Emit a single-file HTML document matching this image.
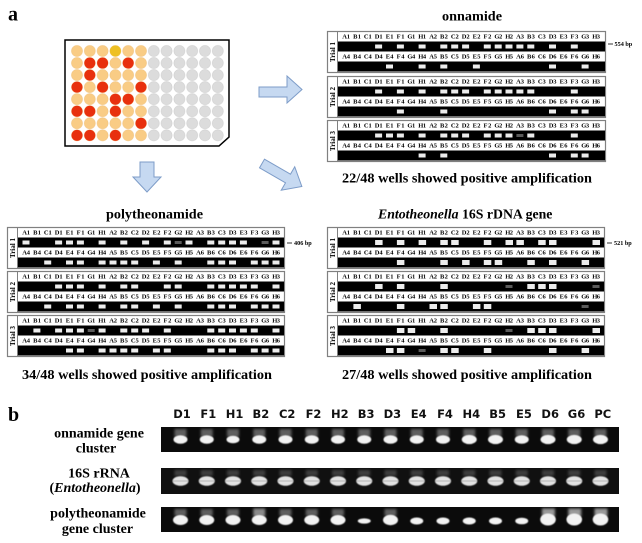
<!DOCTYPE html>
<html><head><meta charset="utf-8"><style>
html,body{margin:0;padding:0;background:#fff;}
svg{display:block;}
.ln{font-weight:bold;font-size:6.5px;font-family:"Liberation Serif",serif;fill:#000;}
.tr{font-weight:bold;font-size:7px;font-family:"Liberation Serif",serif;fill:#000;}
.t{font-weight:bold;font-size:14px;font-family:"Liberation Serif",serif;fill:#000;}
.bp{font-weight:bold;font-size:6.2px;font-family:"Liberation Serif",serif;fill:#000;}
.lb{font-weight:bold;font-size:11.5px;font-family:"DejaVu Sans","Liberation Sans",sans-serif;fill:#111;}
.b{fill:#ececec;}
.f{fill:#5a5a5a;}
</style></head><body>
<svg width="642" height="543" viewBox="0 0 642 543" xmlns="http://www.w3.org/2000/svg">
<defs>
<pattern id="pp" patternUnits="userSpaceOnUse" x="70.6" y="44.975" width="12.8" height="12.05"><circle cx="6.4" cy="6.025" r="5.5" fill="#F9CC85" stroke="#efc07a" stroke-width="0.5"/></pattern>
<pattern id="pg" patternUnits="userSpaceOnUse" x="147.4" y="44.975" width="12.8" height="12.05"><circle cx="6.4" cy="6.025" r="5.5" fill="#DCDCDC" stroke="#cacaca" stroke-width="0.5"/></pattern>
<filter id="bl1" x="-50%" y="-50%" width="200%" height="200%"><feGaussianBlur stdDeviation="1.3"/></filter>
<filter id="bl2" x="-50%" y="-50%" width="200%" height="200%"><feGaussianBlur stdDeviation="0.6"/></filter>
</defs>

<!-- label a -->
<text x="8" y="20.5" style="font-weight:bold;font-size:20px;font-family:'Liberation Serif',serif;">a</text>

<!-- plate -->
<polygon points="65,40 229,40 229,137 219,146 65,146" fill="#fff" stroke="#000" stroke-width="1.5"/>
<rect x="70.6" y="44.975" width="76.8" height="96.4" fill="url(#pp)"/>
<rect x="147.4" y="44.975" width="76.8" height="96.4" fill="url(#pg)"/>
<g fill="#E8300E">
<circle cx="89.8" cy="63.05" r="5.5"/><circle cx="102.6" cy="63.05" r="5.5"/><circle cx="128.2" cy="63.05" r="5.5"/>
<circle cx="89.8" cy="75.1" r="5.5"/>
<circle cx="77" cy="87.15" r="5.5"/><circle cx="102.6" cy="87.15" r="5.5"/><circle cx="141" cy="87.15" r="5.5"/>
<circle cx="115.4" cy="99.2" r="5.5"/><circle cx="128.2" cy="99.2" r="5.5"/>
<circle cx="77" cy="111.25" r="5.5"/><circle cx="89.8" cy="111.25" r="5.5"/><circle cx="115.4" cy="111.25" r="5.5"/>
<circle cx="141" cy="123.3" r="5.5"/>
<circle cx="77" cy="135.35" r="5.5"/><circle cx="89.8" cy="135.35" r="5.5"/><circle cx="115.4" cy="135.35" r="5.5"/>
</g>
<circle cx="115.4" cy="51" r="5.5" fill="#EEC023"/>

<!-- arrows -->
<g fill="#C6D9F1" stroke="#7d9cc8" stroke-width="1">
<polygon points="259,87 287,87 287,76 302,89.5 287,103 287,97 259,97"/>
<polygon points="140,162 154,162 154,177 161,177 147,192 133,177 140,177"/>
<polygon transform="translate(262,163.5) rotate(30)" points="0,-5 30,-5 30,-13.5 46,0 30,13.5 30,5 0,5"/>
</g>

<!-- titles -->
<text class="t" x="442" y="20.5" textLength="60" lengthAdjust="spacingAndGlyphs">onnamide</text>
<text class="t" x="342" y="182.5" textLength="250" lengthAdjust="spacingAndGlyphs">22/48 wells showed positive amplification</text>
<text class="t" x="106" y="218.5" textLength="97" lengthAdjust="spacingAndGlyphs">polytheonamide</text>
<text class="t" x="22" y="379" textLength="250" lengthAdjust="spacingAndGlyphs">34/48 wells showed positive amplification</text>
<text class="t" x="378" y="218.5" style="font-size:13.8px"><tspan font-style="italic">Entotheonella</tspan> 16S rDNA gene</text>
<text class="t" x="342" y="379" textLength="250" lengthAdjust="spacingAndGlyphs">27/48 wells showed positive amplification</text>

<!-- bp markers -->
<line x1="608" y1="44" x2="613" y2="44" stroke="#000" stroke-width="0.8"/><text class="bp" x="614.5" y="46">554 bp</text>
<line x1="287" y1="243" x2="292" y2="243" stroke="#000" stroke-width="0.8"/><text class="bp" x="294" y="245">406 bp</text>
<line x1="607" y1="243" x2="612" y2="243" stroke="#000" stroke-width="0.8"/><text class="bp" x="614" y="245">521 bp</text>

<!-- ============ ONNAMIDE ============ -->
<g transform="translate(327,31)">
<rect x="0.5" y="0.5" width="278" height="41" fill="#fff" stroke="#808080" stroke-width="1.2"/>
<line x1="10.5" y1="0.5" x2="10.5" y2="41.5" stroke="#808080"/>
<rect x="11" y="10.5" width="267" height="10" fill="#000"/><rect x="11" y="30.5" width="267" height="10" fill="#000"/>
<text class="ln" y="7.7" x="15.2 19.8 26.1 30.7 36.9 41.5 47.8 52.4 58.7 63.3 69.6 74.2 80.4 85 91.3 95.9 102.2 106.8 113 117.6 123.9 128.5 134.8 139.4 145.6 150.2 156.5 161.1 167.4 172 178.2 182.8 189.1 193.7 200 204.6 210.9 215.5 221.7 226.3 232.6 237.2 243.5 248.1 254.3 258.9 265.2 269.8">A1B1C1D1E1F1G1H1A2B2C2D2E2F2G2H2A3B3C3D3E3F3G3H3</text>
<text class="ln" y="27.7" x="15.2 19.8 26.1 30.7 36.9 41.5 47.8 52.4 58.7 63.3 69.6 74.2 80.4 85 91.3 95.9 102.2 106.8 113 117.6 123.9 128.5 134.8 139.4 145.6 150.2 156.5 161.1 167.4 172 178.2 182.8 189.1 193.7 200 204.6 210.9 215.5 221.7 226.3 232.6 237.2 243.5 248.1 254.3 258.9 265.2 269.8">A4B4C4D4E4F4G4H4A5B5C5D5E5F5G5H5A6B6C6D6E6F6G6H6</text>
<text class="tr" transform="translate(8,21) rotate(-90)" text-anchor="middle">Trial 1</text>
<g class="b">
<rect x="48.1" y="13.5" width="7" height="4"/><rect x="69.9" y="13.5" width="7" height="4"/><rect x="91.6" y="13.5" width="7" height="4"/><rect x="113.3" y="13.5" width="7" height="4"/><rect x="124.2" y="13.5" width="7" height="4"/><rect x="135.1" y="13.5" width="7" height="4"/><rect x="156.8" y="13.5" width="7" height="4"/><rect x="167.7" y="13.5" width="7" height="4"/><rect x="178.5" y="13.5" width="7" height="4"/><rect x="189.4" y="13.5" width="7" height="4"/><rect x="200.3" y="13.5" width="7" height="4"/><rect x="222" y="13.5" width="7" height="4"/><rect x="243.8" y="13.5" width="7" height="4"/>
<rect x="59" y="33.5" width="7" height="4"/><rect x="91.6" y="33.5" width="7" height="4"/><rect x="113.3" y="33.5" width="7" height="4"/><rect x="145.9" y="33.5" width="7" height="4"/><rect x="222" y="33.5" width="7" height="4"/><rect x="254.6" y="33.5" width="7" height="4"/>
</g>
</g>

<g transform="translate(327,76)">
<rect x="0.5" y="0.5" width="278" height="41" fill="#fff" stroke="#808080" stroke-width="1.2"/>
<line x1="10.5" y1="0.5" x2="10.5" y2="41.5" stroke="#808080"/>
<rect x="11" y="10.5" width="267" height="10" fill="#000"/><rect x="11" y="30.5" width="267" height="10" fill="#000"/>
<text class="ln" y="7.7" x="15.2 19.8 26.1 30.7 36.9 41.5 47.8 52.4 58.7 63.3 69.6 74.2 80.4 85 91.3 95.9 102.2 106.8 113 117.6 123.9 128.5 134.8 139.4 145.6 150.2 156.5 161.1 167.4 172 178.2 182.8 189.1 193.7 200 204.6 210.9 215.5 221.7 226.3 232.6 237.2 243.5 248.1 254.3 258.9 265.2 269.8">A1B1C1D1E1F1G1H1A2B2C2D2E2F2G2H2A3B3C3D3E3F3G3H3</text>
<text class="ln" y="27.7" x="15.2 19.8 26.1 30.7 36.9 41.5 47.8 52.4 58.7 63.3 69.6 74.2 80.4 85 91.3 95.9 102.2 106.8 113 117.6 123.9 128.5 134.8 139.4 145.6 150.2 156.5 161.1 167.4 172 178.2 182.8 189.1 193.7 200 204.6 210.9 215.5 221.7 226.3 232.6 237.2 243.5 248.1 254.3 258.9 265.2 269.8">A4B4C4D4E4F4G4H4A5B5C5D5E5F5G5H5A6B6C6D6E6F6G6H6</text>
<text class="tr" transform="translate(8,21) rotate(-90)" text-anchor="middle">Trial 2</text>
<g class="b">
<rect x="48.1" y="13.5" width="7" height="4"/><rect x="69.9" y="13.5" width="7" height="4"/><rect x="91.6" y="13.5" width="7" height="4"/><rect x="113.3" y="13.5" width="7" height="4"/><rect x="124.2" y="13.5" width="7" height="4"/><rect x="135.1" y="13.5" width="7" height="4"/><rect x="156.8" y="13.5" width="7" height="4"/><rect x="167.7" y="13.5" width="7" height="4"/><rect x="178.5" y="13.5" width="7" height="4"/><rect x="189.4" y="13.5" width="7" height="4"/><rect x="200.3" y="13.5" width="7" height="4"/><rect x="243.8" y="13.5" width="7" height="4"/>
<rect x="69.9" y="33.5" width="7" height="4"/><rect x="113.3" y="33.5" width="7" height="4"/><rect x="222" y="33.5" width="7" height="4"/><rect x="243.8" y="33.5" width="7" height="4"/><rect x="254.6" y="33.5" width="7" height="4"/>
</g>
</g>

<g transform="translate(327,120)">
<rect x="0.5" y="0.5" width="278" height="41" fill="#fff" stroke="#808080" stroke-width="1.2"/>
<line x1="10.5" y1="0.5" x2="10.5" y2="41.5" stroke="#808080"/>
<rect x="11" y="10.5" width="267" height="10" fill="#000"/><rect x="11" y="30.5" width="267" height="10" fill="#000"/>
<text class="ln" y="7.7" x="15.2 19.8 26.1 30.7 36.9 41.5 47.8 52.4 58.7 63.3 69.6 74.2 80.4 85 91.3 95.9 102.2 106.8 113 117.6 123.9 128.5 134.8 139.4 145.6 150.2 156.5 161.1 167.4 172 178.2 182.8 189.1 193.7 200 204.6 210.9 215.5 221.7 226.3 232.6 237.2 243.5 248.1 254.3 258.9 265.2 269.8">A1B1C1D1E1F1G1H1A2B2C2D2E2F2G2H2A3B3C3D3E3F3G3H3</text>
<text class="ln" y="27.7" x="15.2 19.8 26.1 30.7 36.9 41.5 47.8 52.4 58.7 63.3 69.6 74.2 80.4 85 91.3 95.9 102.2 106.8 113 117.6 123.9 128.5 134.8 139.4 145.6 150.2 156.5 161.1 167.4 172 178.2 182.8 189.1 193.7 200 204.6 210.9 215.5 221.7 226.3 232.6 237.2 243.5 248.1 254.3 258.9 265.2 269.8">A4B4C4D4E4F4G4H4A5B5C5D5E5F5G5H5A6B6C6D6E6F6G6H6</text>
<text class="tr" transform="translate(8,21) rotate(-90)" text-anchor="middle">Trial 3</text>
<g class="b">
<rect x="48.1" y="13.5" width="7" height="4"/><rect x="59" y="13.5" width="7" height="4"/><rect x="69.9" y="13.5" width="7" height="4"/><rect x="91.6" y="13.5" width="7" height="4"/><rect x="113.3" y="13.5" width="7" height="4"/><rect x="124.2" y="13.5" width="7" height="4"/><rect x="135.1" y="13.5" width="7" height="4"/><rect x="156.8" y="13.5" width="7" height="4"/><rect x="167.7" y="13.5" width="7" height="4"/><rect x="178.5" y="13.5" width="7" height="4"/><rect class="f" x="189.4" y="14" width="7" height="3"/><rect x="200.3" y="13.5" width="7" height="4"/><rect x="243.8" y="13.5" width="7" height="4"/>
<rect x="91.6" y="33.5" width="7" height="4"/><rect x="113.3" y="33.5" width="7" height="4"/><rect x="222" y="33.5" width="7" height="4"/><rect x="243.8" y="33.5" width="7" height="4"/><rect x="254.6" y="33.5" width="7" height="4"/>
</g>
</g>

<!-- ============ POLYTHEONAMIDE ============ -->
<g transform="translate(7,227)">
<rect x="0.5" y="0.5" width="277" height="41" fill="#fff" stroke="#808080" stroke-width="1.2"/>
<line x1="10.5" y1="0.5" x2="10.5" y2="41.5" stroke="#808080"/>
<rect x="11" y="10.5" width="266" height="10" fill="#000"/><rect x="11" y="30.5" width="266" height="10" fill="#000"/>
<text class="ln" y="7.7" x="15.2 19.8 26.1 30.7 36.9 41.5 47.8 52.4 58.7 63.3 69.6 74.2 80.4 85 91.3 95.9 102.2 106.8 113 117.6 123.9 128.5 134.8 139.4 145.6 150.2 156.5 161.1 167.4 172 178.2 182.8 189.1 193.7 200 204.6 210.9 215.5 221.7 226.3 232.6 237.2 243.5 248.1 254.3 258.9 265.2 269.8">A1B1C1D1E1F1G1H1A2B2C2D2E2F2G2H2A3B3C3D3E3F3G3H3</text>
<text class="ln" y="27.7" x="15.2 19.8 26.1 30.7 36.9 41.5 47.8 52.4 58.7 63.3 69.6 74.2 80.4 85 91.3 95.9 102.2 106.8 113 117.6 123.9 128.5 134.8 139.4 145.6 150.2 156.5 161.1 167.4 172 178.2 182.8 189.1 193.7 200 204.6 210.9 215.5 221.7 226.3 232.6 237.2 243.5 248.1 254.3 258.9 265.2 269.8">A4B4C4D4E4F4G4H4A5B5C5D5E5F5G5H5A6B6C6D6E6F6G6H6</text>
<text class="tr" transform="translate(8,21) rotate(-90)" text-anchor="middle">Trial 1</text>
<g class="b">
<rect x="15.5" y="13.5" width="7" height="4"/><rect x="48.1" y="13.5" width="7" height="4"/><rect x="59" y="13.5" width="7" height="4"/><rect x="69.9" y="13.5" width="7" height="4"/><rect x="91.6" y="13.5" width="7" height="4"/><rect x="113.3" y="13.5" width="7" height="4"/><rect x="135.1" y="13.5" width="7" height="4"/><rect x="156.8" y="13.5" width="7" height="4"/><rect class="f" x="167.7" y="14" width="7" height="3"/><rect x="178.5" y="13.5" width="7" height="4"/><rect x="200.3" y="13.5" width="7" height="4"/><rect x="211.2" y="13.5" width="7" height="4"/><rect x="222" y="13.5" width="7" height="4"/><rect x="232.9" y="13.5" width="7" height="4"/><rect class="f" x="254.6" y="14" width="7" height="3"/><rect x="265.5" y="13.5" width="7" height="4"/>
<rect x="37.2" y="33.5" width="7" height="4"/><rect x="59" y="33.5" width="7" height="4"/><rect x="69.9" y="33.5" width="7" height="4"/><rect x="91.6" y="33.5" width="7" height="4"/><rect x="102.5" y="33.5" width="7" height="4"/><rect x="113.3" y="33.5" width="7" height="4"/><rect x="124.2" y="33.5" width="7" height="4"/><rect x="145.9" y="33.5" width="7" height="4"/><rect x="167.7" y="33.5" width="7" height="4"/><rect x="200.3" y="33.5" width="7" height="4"/><rect x="211.2" y="33.5" width="7" height="4"/><rect x="222" y="33.5" width="7" height="4"/><rect x="243.8" y="33.5" width="7" height="4"/><rect x="254.6" y="33.5" width="7" height="4"/><rect x="265.5" y="33.5" width="7" height="4"/>
</g>
</g>

<g transform="translate(7,271)">
<rect x="0.5" y="0.5" width="277" height="41" fill="#fff" stroke="#808080" stroke-width="1.2"/>
<line x1="10.5" y1="0.5" x2="10.5" y2="41.5" stroke="#808080"/>
<rect x="11" y="10.5" width="266" height="10" fill="#000"/><rect x="11" y="30.5" width="266" height="10" fill="#000"/>
<text class="ln" y="7.7" x="15.2 19.8 26.1 30.7 36.9 41.5 47.8 52.4 58.7 63.3 69.6 74.2 80.4 85 91.3 95.9 102.2 106.8 113 117.6 123.9 128.5 134.8 139.4 145.6 150.2 156.5 161.1 167.4 172 178.2 182.8 189.1 193.7 200 204.6 210.9 215.5 221.7 226.3 232.6 237.2 243.5 248.1 254.3 258.9 265.2 269.8">A1B1C1D1E1F1G1H1A2B2C2D2E2F2G2H2A3B3C3D3E3F3G3H3</text>
<text class="ln" y="27.7" x="15.2 19.8 26.1 30.7 36.9 41.5 47.8 52.4 58.7 63.3 69.6 74.2 80.4 85 91.3 95.9 102.2 106.8 113 117.6 123.9 128.5 134.8 139.4 145.6 150.2 156.5 161.1 167.4 172 178.2 182.8 189.1 193.7 200 204.6 210.9 215.5 221.7 226.3 232.6 237.2 243.5 248.1 254.3 258.9 265.2 269.8">A4B4C4D4E4F4G4H4A5B5C5D5E5F5G5H5A6B6C6D6E6F6G6H6</text>
<text class="tr" transform="translate(8,21) rotate(-90)" text-anchor="middle">Trial 2</text>
<g class="b">
<rect x="48.1" y="13.5" width="7" height="4"/><rect x="59" y="13.5" width="7" height="4"/><rect x="69.9" y="13.5" width="7" height="4"/><rect x="91.6" y="13.5" width="7" height="4"/><rect x="113.3" y="13.5" width="7" height="4"/><rect x="124.2" y="13.5" width="7" height="4"/><rect x="156.8" y="13.5" width="7" height="4"/><rect x="167.7" y="13.5" width="7" height="4"/><rect x="200.3" y="13.5" width="7" height="4"/><rect x="211.2" y="13.5" width="7" height="4"/><rect x="222" y="13.5" width="7" height="4"/><rect x="232.9" y="13.5" width="7" height="4"/><rect x="243.8" y="13.5" width="7" height="4"/><rect x="265.5" y="13.5" width="7" height="4"/>
<rect x="37.2" y="33.5" width="7" height="4"/><rect x="59" y="33.5" width="7" height="4"/><rect x="69.9" y="33.5" width="7" height="4"/><rect x="91.6" y="33.5" width="7" height="4"/><rect x="113.3" y="33.5" width="7" height="4"/><rect x="124.2" y="33.5" width="7" height="4"/><rect x="145.9" y="33.5" width="7" height="4"/><rect x="167.7" y="33.5" width="7" height="4"/><rect x="200.3" y="33.5" width="7" height="4"/><rect x="211.2" y="33.5" width="7" height="4"/><rect x="222" y="33.5" width="7" height="4"/><rect x="243.8" y="33.5" width="7" height="4"/><rect x="254.6" y="33.5" width="7" height="4"/><rect x="265.5" y="33.5" width="7" height="4"/>
</g>
</g>

<g transform="translate(7,315)">
<rect x="0.5" y="0.5" width="277" height="41" fill="#fff" stroke="#808080" stroke-width="1.2"/>
<line x1="10.5" y1="0.5" x2="10.5" y2="41.5" stroke="#808080"/>
<rect x="11" y="10.5" width="266" height="10" fill="#000"/><rect x="11" y="30.5" width="266" height="10" fill="#000"/>
<text class="ln" y="7.7" x="15.2 19.8 26.1 30.7 36.9 41.5 47.8 52.4 58.7 63.3 69.6 74.2 80.4 85 91.3 95.9 102.2 106.8 113 117.6 123.9 128.5 134.8 139.4 145.6 150.2 156.5 161.1 167.4 172 178.2 182.8 189.1 193.7 200 204.6 210.9 215.5 221.7 226.3 232.6 237.2 243.5 248.1 254.3 258.9 265.2 269.8">A1B1C1D1E1F1G1H1A2B2C2D2E2F2G2H2A3B3C3D3E3F3G3H3</text>
<text class="ln" y="27.7" x="15.2 19.8 26.1 30.7 36.9 41.5 47.8 52.4 58.7 63.3 69.6 74.2 80.4 85 91.3 95.9 102.2 106.8 113 117.6 123.9 128.5 134.8 139.4 145.6 150.2 156.5 161.1 167.4 172 178.2 182.8 189.1 193.7 200 204.6 210.9 215.5 221.7 226.3 232.6 237.2 243.5 248.1 254.3 258.9 265.2 269.8">A4B4C4D4E4F4G4H4A5B5C5D5E5F5G5H5A6B6C6D6E6F6G6H6</text>
<text class="tr" transform="translate(8,21) rotate(-90)" text-anchor="middle">Trial 3</text>
<g class="b">
<rect x="26.4" y="13.5" width="7" height="4"/><rect x="48.1" y="13.5" width="7" height="4"/><rect x="59" y="13.5" width="7" height="4"/><rect x="69.9" y="13.5" width="7" height="4"/><rect class="f" x="80.7" y="14" width="7" height="3"/><rect x="91.6" y="13.5" width="7" height="4"/><rect x="113.3" y="13.5" width="7" height="4"/><rect x="124.2" y="13.5" width="7" height="4"/><rect x="135.1" y="13.5" width="7" height="4"/><rect x="156.8" y="13.5" width="7" height="4"/><rect x="200.3" y="13.5" width="7" height="4"/><rect x="211.2" y="13.5" width="7" height="4"/><rect x="222" y="13.5" width="7" height="4"/><rect x="232.9" y="13.5" width="7" height="4"/><rect x="243.8" y="13.5" width="7" height="4"/><rect x="265.5" y="13.5" width="7" height="4"/>
<rect x="59" y="33.5" width="7" height="4"/><rect x="69.9" y="33.5" width="7" height="4"/><rect x="91.6" y="33.5" width="7" height="4"/><rect x="102.5" y="33.5" width="7" height="4"/><rect x="113.3" y="33.5" width="7" height="4"/><rect x="124.2" y="33.5" width="7" height="4"/><rect x="145.9" y="33.5" width="7" height="4"/><rect x="156.8" y="33.5" width="7" height="4"/><rect x="200.3" y="33.5" width="7" height="4"/><rect x="211.2" y="33.5" width="7" height="4"/><rect x="222" y="33.5" width="7" height="4"/><rect x="243.8" y="33.5" width="7" height="4"/><rect x="254.6" y="33.5" width="7" height="4"/><rect x="265.5" y="33.5" width="7" height="4"/>
</g>
</g>

<!-- ============ ENTOTHEONELLA ============ -->
<g transform="translate(327,227)">
<rect x="0.5" y="0.5" width="277" height="41" fill="#fff" stroke="#808080" stroke-width="1.2"/>
<line x1="10.5" y1="0.5" x2="10.5" y2="41.5" stroke="#808080"/>
<rect x="11" y="10.5" width="266" height="10" fill="#000"/><rect x="11" y="30.5" width="266" height="10" fill="#000"/>
<text class="ln" y="7.7" x="15.2 19.8 26.1 30.7 36.9 41.5 47.8 52.4 58.7 63.3 69.6 74.2 80.4 85 91.3 95.9 102.2 106.8 113 117.6 123.9 128.5 134.8 139.4 145.6 150.2 156.5 161.1 167.4 172 178.2 182.8 189.1 193.7 200 204.6 210.9 215.5 221.7 226.3 232.6 237.2 243.5 248.1 254.3 258.9 265.2 269.8">A1B1C1D1E1F1G1H1A2B2C2D2E2F2G2H2A3B3C3D3E3F3G3H3</text>
<text class="ln" y="27.7" x="15.2 19.8 26.1 30.7 36.9 41.5 47.8 52.4 58.7 63.3 69.6 74.2 80.4 85 91.3 95.9 102.2 106.8 113 117.6 123.9 128.5 134.8 139.4 145.6 150.2 156.5 161.1 167.4 172 178.2 182.8 189.1 193.7 200 204.6 210.9 215.5 221.7 226.3 232.6 237.2 243.5 248.1 254.3 258.9 265.2 269.8">A4B4C4D4E4F4G4H4A5B5C5D5E5F5G5H5A6B6C6D6E6F6G6H6</text>
<text class="tr" transform="translate(8,21) rotate(-90)" text-anchor="middle">Trial 1</text>
<g class="b">
<rect x="48.1" y="13" width="7.5" height="5"/><rect x="69.9" y="13" width="7.5" height="5"/><rect x="91.6" y="13" width="7.5" height="5"/><rect x="113.3" y="13" width="7.5" height="5"/><rect x="124.2" y="13" width="7.5" height="5"/><rect x="156.8" y="13" width="7.5" height="5"/><rect x="178.5" y="13" width="7.5" height="5"/><rect x="189.4" y="13" width="7.5" height="5"/><rect x="211.2" y="13" width="7.5" height="5"/><rect x="222" y="13" width="7.5" height="5"/><rect x="265.5" y="13" width="7.5" height="5"/>
<rect x="69.9" y="33" width="7.5" height="5"/><rect x="113.3" y="33" width="7.5" height="5"/><rect x="135.1" y="33" width="7.5" height="5"/><rect x="156.8" y="33" width="7.5" height="5"/><rect x="167.7" y="33" width="7.5" height="5"/><rect x="200.3" y="33" width="7.5" height="5"/><rect x="222" y="33" width="7.5" height="5"/><rect x="254.6" y="33" width="7.5" height="5"/>
</g>
</g>

<g transform="translate(327,271)">
<rect x="0.5" y="0.5" width="277" height="41" fill="#fff" stroke="#808080" stroke-width="1.2"/>
<line x1="10.5" y1="0.5" x2="10.5" y2="41.5" stroke="#808080"/>
<rect x="11" y="10.5" width="266" height="10" fill="#000"/><rect x="11" y="30.5" width="266" height="10" fill="#000"/>
<text class="ln" y="7.7" x="15.2 19.8 26.1 30.7 36.9 41.5 47.8 52.4 58.7 63.3 69.6 74.2 80.4 85 91.3 95.9 102.2 106.8 113 117.6 123.9 128.5 134.8 139.4 145.6 150.2 156.5 161.1 167.4 172 178.2 182.8 189.1 193.7 200 204.6 210.9 215.5 221.7 226.3 232.6 237.2 243.5 248.1 254.3 258.9 265.2 269.8">A1B1C1D1E1F1G1H1A2B2C2D2E2F2G2H2A3B3C3D3E3F3G3H3</text>
<text class="ln" y="27.7" x="15.2 19.8 26.1 30.7 36.9 41.5 47.8 52.4 58.7 63.3 69.6 74.2 80.4 85 91.3 95.9 102.2 106.8 113 117.6 123.9 128.5 134.8 139.4 145.6 150.2 156.5 161.1 167.4 172 178.2 182.8 189.1 193.7 200 204.6 210.9 215.5 221.7 226.3 232.6 237.2 243.5 248.1 254.3 258.9 265.2 269.8">A4B4C4D4E4F4G4H4A5B5C5D5E5F5G5H5A6B6C6D6E6F6G6H6</text>
<text class="tr" transform="translate(8,21) rotate(-90)" text-anchor="middle">Trial 2</text>
<g class="b">
<rect x="48.1" y="13" width="7.5" height="5"/><rect x="69.9" y="13" width="7.5" height="5"/><rect x="113.3" y="13" width="7.5" height="5"/><rect class="f" x="178.5" y="14" width="7" height="3"/><rect x="200.3" y="13" width="7.5" height="5"/><rect x="211.2" y="13" width="7.5" height="5"/><rect x="222" y="13" width="7.5" height="5"/><rect class="f" x="265.5" y="14" width="7" height="3"/>
<rect x="26.4" y="33" width="7.5" height="5"/><rect x="69.9" y="33" width="7.5" height="5"/><rect x="102.5" y="33" width="7.5" height="5"/><rect x="113.3" y="33" width="7.5" height="5"/><rect x="145.9" y="33" width="7.5" height="5"/><rect x="156.8" y="33" width="7.5" height="5"/><rect class="f" x="254.6" y="34" width="7" height="3"/>
</g>
</g>

<g transform="translate(327,315)">
<rect x="0.5" y="0.5" width="277" height="41" fill="#fff" stroke="#808080" stroke-width="1.2"/>
<line x1="10.5" y1="0.5" x2="10.5" y2="41.5" stroke="#808080"/>
<rect x="11" y="10.5" width="266" height="10" fill="#000"/><rect x="11" y="30.5" width="266" height="10" fill="#000"/>
<text class="ln" y="7.7" x="15.2 19.8 26.1 30.7 36.9 41.5 47.8 52.4 58.7 63.3 69.6 74.2 80.4 85 91.3 95.9 102.2 106.8 113 117.6 123.9 128.5 134.8 139.4 145.6 150.2 156.5 161.1 167.4 172 178.2 182.8 189.1 193.7 200 204.6 210.9 215.5 221.7 226.3 232.6 237.2 243.5 248.1 254.3 258.9 265.2 269.8">A1B1C1D1E1F1G1H1A2B2C2D2E2F2G2H2A3B3C3D3E3F3G3H3</text>
<text class="ln" y="27.7" x="15.2 19.8 26.1 30.7 36.9 41.5 47.8 52.4 58.7 63.3 69.6 74.2 80.4 85 91.3 95.9 102.2 106.8 113 117.6 123.9 128.5 134.8 139.4 145.6 150.2 156.5 161.1 167.4 172 178.2 182.8 189.1 193.7 200 204.6 210.9 215.5 221.7 226.3 232.6 237.2 243.5 248.1 254.3 258.9 265.2 269.8">A4B4C4D4E4F4G4H4A5B5C5D5E5F5G5H5A6B6C6D6E6F6G6H6</text>
<text class="tr" transform="translate(8,21) rotate(-90)" text-anchor="middle">Trial 3</text>
<g class="b">
<rect x="69.9" y="13" width="7.5" height="5"/><rect x="80.7" y="13" width="7.5" height="5"/><rect x="113.3" y="13" width="7.5" height="5"/><rect class="f" x="178.5" y="14" width="7" height="3"/><rect x="200.3" y="13" width="7.5" height="5"/><rect x="211.2" y="13" width="7.5" height="5"/><rect x="222" y="13" width="7.5" height="5"/><rect x="265.5" y="13" width="7.5" height="5"/>
<rect x="59" y="33" width="7.5" height="5"/><rect x="69.9" y="33" width="7.5" height="5"/><rect class="f" x="91.6" y="34" width="7" height="3"/><rect x="113.3" y="33" width="7.5" height="5"/><rect x="124.2" y="33" width="7.5" height="5"/><rect x="156.8" y="33" width="7.5" height="5"/><rect x="222" y="33" width="7.5" height="5"/><rect x="254.6" y="33" width="7.5" height="5"/>
</g>
</g>

<!-- ============ PANEL B ============ -->
<text x="8" y="421" style="font-weight:bold;font-size:20px;font-family:'Liberation Serif',serif;">b</text>
<g class="lb" text-anchor="middle">
<text x="182" y="418">D1</text><text x="208.3" y="418">F1</text><text x="234.6" y="418">H1</text><text x="260.9" y="418">B2</text><text x="287.2" y="418">C2</text><text x="313.5" y="418">F2</text><text x="339.8" y="418">H2</text><text x="366.1" y="418">B3</text><text x="392.4" y="418">D3</text><text x="418.7" y="418">E4</text><text x="445" y="418">F4</text><text x="471.3" y="418">H4</text><text x="497.6" y="418">B5</text><text x="523.9" y="418">E5</text><text x="550.2" y="418">D6</text><text x="576.5" y="418">G6</text><text x="602.8" y="418">PC</text>
</g>
<g style="font-weight:bold;font-size:14px;font-family:'Liberation Serif',serif;" text-anchor="middle">
<text x="99" y="437.5">onnamide gene</text>
<text x="96" y="452.5">cluster</text>
<text x="99" y="477.5">16S rRNA</text>
<text x="95" y="492">(<tspan font-style="italic">Entotheonella</tspan>)</text>
<text x="98" y="517.5">polytheonamide</text>
<text x="97.5" y="533">gene cluster</text>
</g>

<rect x="161" y="427" width="458" height="25" fill="#0b0b0b"/>
<rect x="161" y="468" width="458" height="26" fill="#101010"/>
<rect x="161" y="507" width="458" height="25" fill="#0b0b0b"/>

<!-- strip 1 -->
<g fill="#5e5e5e" filter="url(#bl1)">
<rect x="174.5" y="429" width="12" height="8"/><rect x="200.75" y="429" width="12" height="8"/><rect x="227" y="429" width="12" height="8"/><rect x="253.25" y="429" width="12" height="8"/><rect x="279.5" y="429" width="12" height="8"/><rect x="305.75" y="429" width="12" height="8"/><rect x="332" y="429" width="12" height="8"/><rect x="358.25" y="429" width="12" height="8"/><rect x="384.5" y="429" width="12" height="8"/><rect x="410.75" y="429" width="12" height="8"/><rect x="437" y="429" width="12" height="8"/><rect x="463.25" y="429" width="12" height="8"/><rect x="489.5" y="429" width="12" height="8"/><rect x="515.75" y="429" width="12" height="8"/><rect x="542" y="429" width="12" height="8"/><rect x="568.25" y="429" width="12" height="8"/><rect x="594.5" y="429" width="12" height="8"/>
</g>
<g fill="#f2f2f2" filter="url(#bl2)">
<ellipse cx="180.5" cy="439.5" rx="7" ry="4.3"/><ellipse cx="206.75" cy="439.5" rx="7" ry="4.3"/><ellipse cx="233" cy="439.5" rx="6.5" ry="3.8"/><ellipse cx="259.25" cy="439.5" rx="7" ry="4.3"/><ellipse cx="285.5" cy="439.5" rx="7" ry="4.3"/><ellipse cx="311.75" cy="439.5" rx="7" ry="4.3"/><ellipse cx="338" cy="439.5" rx="7" ry="4.3"/><ellipse cx="364.25" cy="439.5" rx="7" ry="4.3"/><ellipse cx="390.5" cy="439.5" rx="7" ry="4.3"/><ellipse cx="416.75" cy="439.5" rx="7" ry="4.3"/><ellipse cx="443" cy="439.5" rx="7" ry="4.3"/><ellipse cx="469.25" cy="439.5" rx="7.5" ry="4.6"/><ellipse cx="495.5" cy="439.5" rx="7.5" ry="4.6"/><ellipse cx="521.75" cy="439.5" rx="7" ry="4.3"/><ellipse cx="548" cy="439.5" rx="7.5" ry="4.6"/><ellipse cx="574.25" cy="439.5" rx="7.5" ry="4.6"/><ellipse cx="600.5" cy="439.5" rx="7.5" ry="4.6"/>
</g>

<!-- strip 2 -->
<g fill="#3e3e3e" filter="url(#bl1)">
<rect x="174.5" y="470" width="12" height="6"/><rect x="200.75" y="470" width="12" height="6"/><rect x="227" y="470" width="12" height="6"/><rect x="253.25" y="470" width="12" height="6"/><rect x="279.5" y="470" width="12" height="6"/><rect x="305.75" y="470" width="12" height="6"/><rect x="332" y="470" width="12" height="6"/><rect x="358.25" y="470" width="12" height="6"/><rect x="384.5" y="470" width="12" height="6"/><rect x="410.75" y="470" width="12" height="6"/><rect x="437" y="470" width="12" height="6"/><rect x="463.25" y="470" width="12" height="6"/><rect x="489.5" y="470" width="12" height="6"/><rect x="515.75" y="470" width="12" height="6"/><rect x="542" y="470" width="12" height="6"/><rect x="568.25" y="470" width="12" height="6"/><rect x="594.5" y="470" width="12" height="6"/>
</g>
<g fill="#e2e2e2" filter="url(#bl2)">
<ellipse cx="180.5" cy="481" rx="8" ry="4.8"/><ellipse cx="206.75" cy="481" rx="8" ry="4.8"/><ellipse cx="233" cy="481" rx="8" ry="4.8"/><ellipse cx="259.25" cy="481" rx="8" ry="4.8"/><ellipse cx="285.5" cy="481" rx="8" ry="4.8"/><ellipse cx="311.75" cy="481" rx="8" ry="4.8"/><ellipse cx="338" cy="481" rx="8" ry="4.8"/><ellipse cx="364.25" cy="481" rx="8" ry="4.8"/><ellipse cx="390.5" cy="481" rx="8" ry="4.8"/><ellipse cx="416.75" cy="481" rx="8" ry="4.8"/><ellipse cx="443" cy="481" rx="8" ry="4.8"/><ellipse cx="469.25" cy="481" rx="8" ry="4.8"/><ellipse cx="495.5" cy="481" rx="8" ry="4.8"/><ellipse cx="521.75" cy="481" rx="8" ry="4.8"/><ellipse cx="548" cy="481" rx="8" ry="4.8"/><ellipse cx="574.25" cy="481" rx="8" ry="4.8"/><ellipse cx="600.5" cy="481" rx="8" ry="4.8"/>
</g>
<g fill="#9a9a9a" opacity="0.6">
<rect x="173" y="480.5" width="15" height="1"/><rect x="199.25" y="480.5" width="15" height="1"/><rect x="225.5" y="480.5" width="15" height="1"/><rect x="251.75" y="480.5" width="15" height="1"/><rect x="278" y="480.5" width="15" height="1"/><rect x="304.25" y="480.5" width="15" height="1"/><rect x="330.5" y="480.5" width="15" height="1"/><rect x="356.75" y="480.5" width="15" height="1"/><rect x="383" y="480.5" width="15" height="1"/><rect x="409.25" y="480.5" width="15" height="1"/><rect x="435.5" y="480.5" width="15" height="1"/><rect x="461.75" y="480.5" width="15" height="1"/><rect x="488" y="480.5" width="15" height="1"/><rect x="514.25" y="480.5" width="15" height="1"/><rect x="540.5" y="480.5" width="15" height="1"/><rect x="566.75" y="480.5" width="15" height="1"/><rect x="593" y="480.5" width="15" height="1"/>
</g>

<!-- strip 3 -->
<g fill="#5e5e5e" filter="url(#bl1)">
<rect x="174.5" y="509" width="12" height="7"/><rect x="200.75" y="509" width="12" height="7"/><rect x="227" y="509" width="12" height="7"/><rect x="253.25" y="508.5" width="12" height="8" fill="#8a8a8a"/><rect x="279.5" y="509" width="12" height="7"/><rect x="305.75" y="509" width="12" height="7"/><rect x="332" y="509" width="12" height="7"/><rect x="384.5" y="509" width="12" height="7"/><rect x="542" y="508.5" width="13" height="8" fill="#9a9a9a"/><rect x="568.25" y="508.5" width="13" height="8" fill="#9a9a9a"/><rect x="594.5" y="508.5" width="13" height="8" fill="#9a9a9a"/>
</g>
<g fill="#f2f2f2" filter="url(#bl2)">
<ellipse cx="180.5" cy="520" rx="7.5" ry="5"/><ellipse cx="206.75" cy="520" rx="7.5" ry="5"/><ellipse cx="233" cy="520" rx="7.5" ry="5"/><ellipse cx="259.25" cy="520" rx="7.5" ry="5"/><ellipse cx="285.5" cy="520" rx="7.5" ry="5"/><ellipse cx="311.75" cy="520" rx="7.5" ry="5"/><ellipse cx="338" cy="520" rx="7.5" ry="5"/>
<ellipse cx="364.25" cy="521" rx="6.5" ry="2.6"/>
<ellipse cx="390.5" cy="520" rx="7.5" ry="5.2"/>
<ellipse cx="416.75" cy="521" rx="6.5" ry="3.5"/><ellipse cx="443" cy="521" rx="6.5" ry="3.5"/><ellipse cx="469.25" cy="521" rx="6.5" ry="3.5"/><ellipse cx="495.5" cy="521" rx="6.5" ry="3.5"/><ellipse cx="521.75" cy="521" rx="6.5" ry="3.3"/>
<ellipse cx="548" cy="519.5" rx="7.8" ry="6"/><ellipse cx="574.25" cy="519.5" rx="7.8" ry="6"/><ellipse cx="600.5" cy="519.5" rx="7.8" ry="6"/>
</g>
</svg>
</body></html>
